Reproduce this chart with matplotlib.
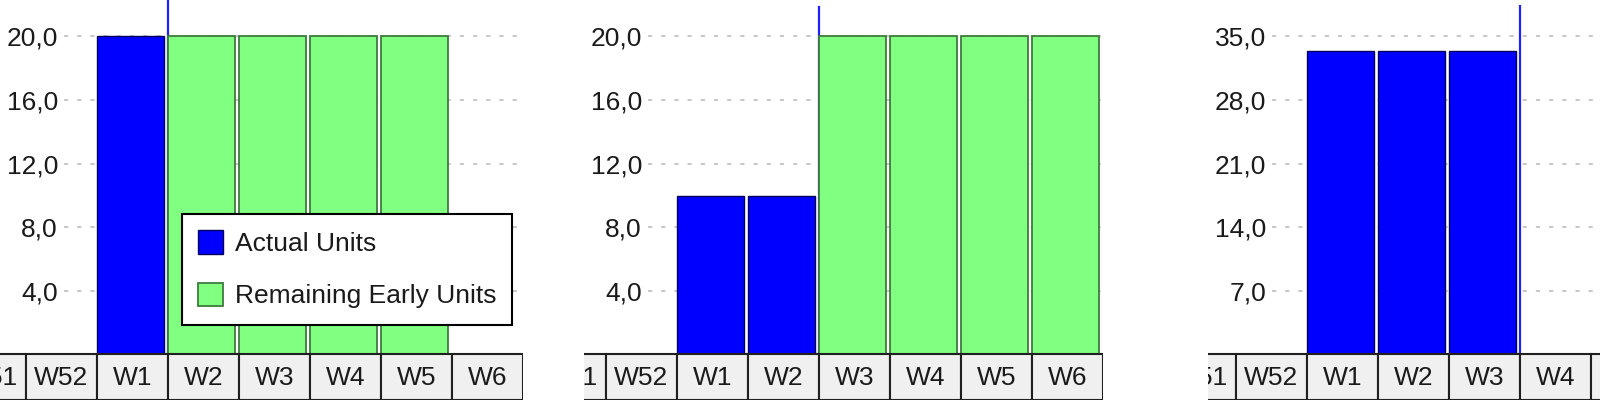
import matplotlib
matplotlib.use('Agg')
import matplotlib.pyplot as plt
from matplotlib.patches import Patch

plt.rcParams['font.family'] = ['Liberation Sans', 'DejaVu Sans']
plt.rcParams['lines.scale_dashes'] = False

# 数据
weeks = ['W51', 'W52', 'W1', 'W2', 'W3', 'W4', 'W5', 'W6']

p1_actual = [0, 0, 20, 0, 0, 0, 0, 0]
p1_remaining = [0, 0, 0, 20, 20, 20, 20, 0]
p1_ticks = [4, 8, 12, 16, 20]
p1_marker = 'W1'

p2_actual = [0, 0, 10, 10, 0, 0, 0, 0]
p2_remaining = [0, 0, 0, 0, 20, 20, 20, 20]
p2_ticks = [4, 8, 12, 16, 20]
p2_marker = 'W2'

p3_actual = [0, 0, 33.3, 33.3, 33.3, 0, 0, 0]
p3_remaining = [0, 0, 0, 0, 0, 0, 0, 0]
p3_ticks = [7, 14, 21, 28, 35]
p3_marker = 'W3'

W, H = 1600, 403
CELL = 71.0          # 每个类别的像素宽度
BASE = 355           # 柱底部(像素,自上)
FS = 19

fig = plt.figure(figsize=(W / 100, H / 100), dpi=100)


def panel(left_px, right_px, first_edge_px, actual, remaining, ticks, marker,
          line_top_px, legend=False):
    x_left = 0.5 - (first_edge_px - left_px) / CELL
    x_right = x_left + (right_px - left_px) / CELL
    ax = fig.add_axes([left_px / W, (H - BASE) / H, (right_px - left_px) / W, BASE / H])
    px_per_unit = (BASE - 36) / ticks[-1]
    ax.set_ylim(0, BASE / px_per_unit)
    ax.set_xlim(x_left, x_right)
    for s in ax.spines.values():
        s.set_visible(False)
    ax.set_xticks([])
    ax.set_yticks(ticks)
    ax.set_yticklabels([f'{t:.1f}'.replace('.', ',') for t in ticks])
    ax.tick_params(axis='y', length=0, pad=-58 * 0.72, labelsize=FS, labelcolor='#1a1a1a')
    for lab in ax.get_yticklabels():
        lab.set_zorder(5)

    axw = right_px - left_px
    ax.hlines(ticks, 64 / axw, 1, transform=ax.get_yaxis_transform(),
              colors='#b8b8b8', linewidth=1.1, linestyles=(0, (3, 6.5)), zorder=1)

    m = weeks.index(marker) + 0.5
    ax.axvline(m, ymin=0, ymax=(BASE - line_top_px) / BASE, color='#2020ff',
               linewidth=1.6, zorder=2)

    xs = range(len(weeks))
    for i in xs:
        if actual[i] > 0:
            ax.bar(i - 0.5 + 0.007, actual[i], width=0.94, align='edge',
                   color='#0000ff', edgecolor='#00005a', linewidth=1.0, zorder=3)
        if remaining[i] > 0:
            ax.bar(i - 0.5 + 0.007, remaining[i], width=0.94, align='edge',
                   color='#80ff80', edgecolor='#3f7a3f', linewidth=1.3, zorder=3)

    if legend:
        handles = [Patch(facecolor='#0000ff', edgecolor='#00005a', linewidth=1.0),
                   Patch(facecolor='#80ff80', edgecolor='#3f7a3f', linewidth=1.3)]
        leg = fig.legend(handles, ['Actual Units', 'Remaining Early Units'],
                         loc='upper left', bbox_to_anchor=(182 / W, 1 - 214 / H),
                         bbox_transform=fig.transFigure, borderaxespad=0,
                         fontsize=FS, fancybox=False, framealpha=1,
                         edgecolor='black', borderpad=0.62, handlelength=0.95,
                         handleheight=1.0, handletextpad=0.42, labelspacing=1.0,
                         labelcolor='#1a1a1a')
        leg.get_frame().set_linewidth(1.5)
        leg.set_zorder(10)

    # 底部周次表格
    at = fig.add_axes([left_px / W, 3 / H, (right_px - left_px) / W, 51 / H])
    at.set_xlim(x_left, x_right)
    at.set_ylim(0, 51)
    at.axis('off')
    at.bar(list(xs), [46] * len(weeks), width=1.0, bottom=0, color='#f0f0f0',
           edgecolor='#202020', linewidth=1.5, clip_on=True)
    for i, w in enumerate(weeks):
        at.text(i, 22, w, ha='center', va='center', fontsize=FS, color='#1a1a1a',
                clip_on=True)
    return ax


panel(0, 523, 26, p1_actual, p1_remaining, p1_ticks, p1_marker, 0, legend=True)
panel(584, 1103, 606, p2_actual, p2_remaining, p2_ticks, p2_marker, 7)
panel(1208, 1600, 1236, p3_actual, p3_remaining, p3_ticks, p3_marker, 6)

fig.savefig('out.png', dpi=100)
